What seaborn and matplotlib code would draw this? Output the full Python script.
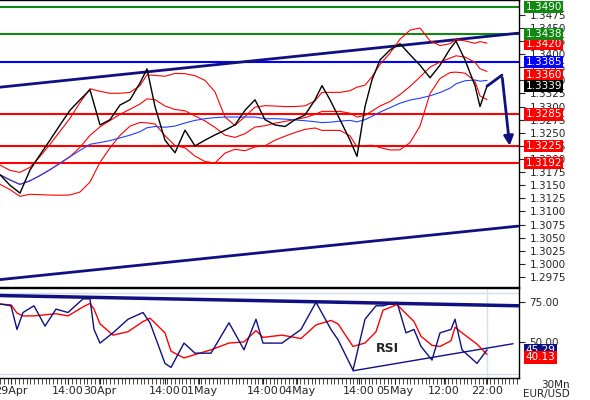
import numpy as np
import pandas as pd
import matplotlib
matplotlib.use("Agg")
import matplotlib.pyplot as plt
import seaborn as sns
from matplotlib.transforms import blended_transform_factory

# price path (x in chart pixels, close price)
price_x = [0, 10, 20, 30, 40, 50, 60, 70, 80, 90, 100, 110, 120, 130, 140, 147, 155,
           165, 175, 185, 195, 205, 215, 225, 235, 245, 255, 265, 275, 285, 295, 305,
           315, 322, 330, 340, 350, 357, 365, 372, 380, 390, 400, 410, 420, 430, 440,
           450, 456, 465, 475, 480, 487]
price_y = [1.3170, 1.3150, 1.3135, 1.3179, 1.3208, 1.3236, 1.3265, 1.3293, 1.3313,
           1.3332, 1.3265, 1.3275, 1.3303, 1.3313, 1.3345, 1.3372, 1.3300, 1.3236,
           1.3212, 1.3255, 1.3225, 1.3236, 1.3246, 1.3255, 1.3265, 1.3293, 1.3313,
           1.3275, 1.3265, 1.3262, 1.3275, 1.3284, 1.3313, 1.3340, 1.3313, 1.3275,
           1.3236, 1.3205, 1.3300, 1.3351, 1.3389, 1.3408, 1.3420, 1.3399, 1.3379,
           1.3355, 1.3379, 1.3410, 1.3425, 1.3389, 1.3340, 1.3300, 1.3339]

# RSI path
rsi_x = [0, 11, 17, 23, 34, 45, 56, 68, 83, 90, 94, 100, 113, 128, 143, 150, 165, 171,
         184, 195, 211, 229, 244, 256, 263, 282, 301, 316, 331, 338, 353, 365, 376, 383,
         397, 406, 414, 421, 432, 440, 451, 455, 462, 477, 487]
rsi_y = [73.9, 72.8, 58.0, 68.6, 72.8, 60.1, 70.7, 68.6, 77.1, 77.1, 58.0, 49.5, 55.9,
         64.4, 68.6, 62.2, 36.8, 34.3, 49.5, 43.2, 43.2, 62.2, 45.3, 64.4, 49.5, 49.5,
         58.0, 75.0, 58.0, 51.6, 32.6, 64.4, 72.8, 72.8, 75.0, 55.9, 58.0, 47.4, 38.9,
         55.9, 58.0, 64.4, 45.3, 36.8, 45.3]

green_levels = [1.3490, 1.3438]
blue_level = 1.3385
red_levels = [1.3285, 1.3225, 1.3192]
upper_trend = ([0, 518], [1.3337, 1.3440])
lower_trend = ([0, 518], [1.2970, 1.3072])
arrow_path = ([487, 502], [1.3339, 1.3360])
arrow_tip = (510, 1.3220)
rsi_top_trend = ([0, 518], [79.2, 72.8])
rsi_low_trend = ([353, 513], [32.2, 49.1])

time_pos = [11, 68, 100, 165, 199, 263, 297, 359, 395, 444, 487]
time_labels = ["29Apr", "14:00", "30Apr", "14:00", "01May", "14:00", "04May",
               "14:00", "05May", "12:00", "22:00"]

tag_values = [(1.3490, "1.3490", "#118811"), (1.3420, "1.3420", "#ff0000"),
              (1.3438, "1.3438", "#118811"), (1.3385, "1.3385", "#0000ff"),
              (1.3360, "1.3360", "#ff0000"), (1.3339, "1.3339", "#000000"),
              (1.3285, "1.3285", "#ff0000"), (1.3225, "1.3225", "#ff0000"),
              (1.3192, "1.3192", "#ff0000")]

sns.set_style("white")
plt.rcParams["font.family"] = ["DejaVu Sans"]
NAVY = "#101080"

fig = plt.figure(figsize=(5.9, 4.0), dpi=100)
W = 519 / 590
ax = fig.add_axes([0, 1 - 287 / 400, W, 287 / 400])
ax2 = fig.add_axes([0, 1 - 378 / 400, W, 90 / 400])

df = pd.DataFrame({"x": price_x, "p": price_y})
mid = df["p"].rolling(8, min_periods=1).mean()
sd = df["p"].rolling(8, min_periods=2).std().bfill()
ma_long = df["p"].rolling(18, min_periods=1).mean()

for lv in green_levels:
    ax.axhline(lv, color="#118811", lw=1.5)
ax.axhline(blue_level, color="#0000ff", lw=1.5)
for lv in red_levels:
    ax.axhline(lv, color="#ff0000", lw=1.5)
ax.plot(*upper_trend, color=NAVY, lw=2)
ax.plot(*lower_trend, color=NAVY, lw=2)

ax.plot(df["x"], mid + 1.3 * sd, color="red", lw=0.8)
ax.plot(df["x"], mid - 1.3 * sd, color="red", lw=0.8)
ax.plot(df["x"], mid, color="red", lw=0.8)
ax.plot(df["x"], ma_long, color="#2040ff", lw=0.8)
sns.lineplot(data=df, x="x", y="p", color="black", lw=1.0, ax=ax)

ax.plot(*arrow_path, color=NAVY, lw=2)
ax.annotate("", xy=arrow_tip, xytext=(arrow_path[0][1], arrow_path[1][1]),
            arrowprops=dict(arrowstyle="-|>", color=NAVY, lw=2, mutation_scale=14))

ax.set_xlim(0, 519)
ax.set_ylim(1.29559, 1.35033)
ax.yaxis.tick_right()
ax.set_yticks(np.arange(1.2975, 1.3490, 0.0025))
ax.yaxis.set_major_formatter(matplotlib.ticker.FormatStrFormatter("%.4f"))
ax.tick_params(axis="y", labelsize=7.5, length=4, direction="out", right=True)
ax.set_xticks([])
ax.set_xlabel("")
ax.set_ylabel("")

tr = blended_transform_factory(ax.transAxes, ax.transData)
for val, txt, col in tag_values:
    ax.text(1.013, val, txt, transform=tr, color="white", fontsize=7.5, va="center",
            ha="left", clip_on=False,
            bbox=dict(boxstyle="square,pad=0.12", fc=col, ec="none"))

# RSI panel
rdf = pd.DataFrame({"x": rsi_x, "r": rsi_y})
sig = rdf["r"].rolling(3, min_periods=1).mean()
ax2.axhline(80.5, color="#cfe0ee", lw=1)
ax2.axhline(30, color="#cfe0ee", lw=1)
ax2.axvline(487, color="#cfe0ee", lw=1)
ax2.plot(*rsi_top_trend, color=NAVY, lw=2.5)
ax2.plot(*rsi_low_trend, color=NAVY, lw=1)
ax2.plot(rdf["x"], sig, color="red", lw=1)
sns.lineplot(data=rdf, x="x", y="r", color=NAVY, lw=1, ax=ax2)
ax2.text(376, 44, "RSI", fontsize=9, fontweight="bold")
ax2.set_xlim(0, 519)
ax2.set_ylim(27.7, 83.9)
ax2.yaxis.tick_right()
ax2.set_yticks([75, 50])
ax2.set_yticklabels(["75.00", "50.00"])
ax2.tick_params(axis="y", labelsize=7.5, length=4, right=True)
ax2.set_xticks(time_pos)
ax2.set_xticklabels(time_labels)
ax2.set_xticks(np.arange(0, 519, 3.8), minor=True)
ax2.tick_params(axis="x", which="both", labelsize=8, length=4, bottom=True,
                direction="out", pad=2)
ax2.set_xlabel("")
ax2.set_ylabel("")
tr2 = blended_transform_factory(ax2.transAxes, ax2.transData)
ax2.text(1.013, 45.29, "45.29", transform=tr2, color="white", fontsize=7.5, va="center",
         clip_on=False, bbox=dict(boxstyle="square,pad=0.12", fc=NAVY, ec="none"))
ax2.text(1.013, 40.6, "40.13", transform=tr2, color="white", fontsize=7.5, va="center",
         clip_on=False, bbox=dict(boxstyle="square,pad=0.12", fc="#ff0000", ec="none"))

for a in (ax, ax2):
    for s in a.spines.values():
        s.set_color("black")
        s.set_linewidth(1)
    a.spines["left"].set_visible(False)

fig.text(0.965, 0.003, "30Mn\nEUR/USD", fontsize=7.5, ha="right", va="bottom",
         linespacing=0.9)
fig.savefig("out.png", dpi=100)
